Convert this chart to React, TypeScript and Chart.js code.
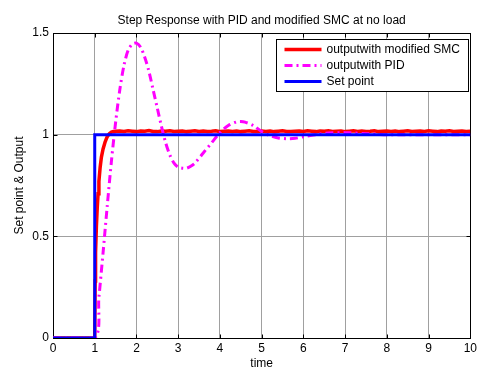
import React, { useEffect, useRef } from "react";
import { Chart, registerables } from "chart.js";

Chart.register(...registerables);

const chartTitle = "Step Response with PID and modified SMC at no load";
const xTitle = "time";
const yTitle = "Set point & Output";
const seriesLabels = ["outputwith modified SMC", "outputwith PID", "Set point"];

const smcTime = [
  0, 1, 1.01, 1.02, 1.04, 1.06, 1.08, 1.1, 1.13, 1.16, 1.2, 1.25, 1.3, 1.35, 1.4, 1.45, 1.5,
  1.6, 1.7, 1.8, 1.9, 2.0, 2.1, 2.2, 2.3, 2.4, 2.5, 2.6, 2.7, 2.8, 2.9, 3.0, 3.1, 3.2, 3.3, 3.4,
  3.5, 3.6, 3.7, 3.8, 3.9, 4.0, 4.1, 4.2, 4.3, 4.4, 4.5, 4.6, 4.7, 4.8, 4.9, 5.0, 5.1, 5.2,
  5.3, 5.4, 5.5, 5.6, 5.7, 5.8, 5.9, 6.0, 6.1, 6.2, 6.3, 6.4, 6.5, 6.6, 6.7, 6.8, 6.9, 7.0,
  7.1, 7.2, 7.3, 7.4, 7.5, 7.6, 7.7, 7.8, 7.9, 8.0, 8.1, 8.2, 8.3, 8.4, 8.5, 8.6, 8.7, 8.8,
  8.9, 9.0, 9.1, 9.2, 9.3, 9.4, 9.5, 9.6, 9.7, 9.8, 9.9, 10,
];
const smcValues = [
  0, 0, 0.28, 0.42, 0.55, 0.64, 0.71, 0.77, 0.84, 0.89, 0.93, 0.965, 0.99, 1.005, 1.013, 1.016, 1.017,
  1.018, 1.016, 1.019, 1.017, 1.015, 1.018, 1.017, 1.02, 1.016, 1.015, 1.018, 1.017, 1.019, 1.016, 1.017, 1.018, 1.015,
  1.017, 1.019, 1.016, 1.018, 1.016, 1.017, 1.019, 1.015, 1.017, 1.018, 1.016, 1.018, 1.015, 1.017, 1.019, 1.016,
  1.016, 1.018, 1.016, 1.018, 1.015, 1.017, 1.019, 1.016, 1.016, 1.017, 1.018, 1.016, 1.019, 1.017, 1.015, 1.018,
  1.017, 1.019, 1.016, 1.017, 1.018, 1.015, 1.017, 1.019, 1.016, 1.018, 1.016, 1.017, 1.019, 1.015, 1.017, 1.018,
  1.016, 1.018, 1.015, 1.017, 1.019, 1.016, 1.017, 1.018, 1.016, 1.019, 1.017, 1.015, 1.018, 1.017, 1.019, 1.016,
  1.017, 1.018, 1.016, 1.017,
];

const pidTime = [
  0, 1, 1.1, 1.2, 1.3, 1.4, 1.5, 1.6, 1.7, 1.8, 1.9, 2.0, 2.1, 2.2, 2.3, 2.4, 2.5, 2.6, 2.7,
  2.8, 2.9, 3.0, 3.1, 3.2, 3.3, 3.4, 3.6, 3.8, 4.0, 4.2, 4.4, 4.5, 4.6, 4.8, 5.0, 5.2, 5.4,
  5.6, 5.8, 6.0, 6.3, 6.6, 7.0, 7.5, 8, 9, 10,
];
const pidValues = [
  0, 0, 0.2, 0.42, 0.65, 0.87, 1.06, 1.22, 1.34, 1.415, 1.445, 1.45, 1.43, 1.38, 1.31, 1.22, 1.13, 1.04, 0.96,
  0.9, 0.86, 0.84, 0.835, 0.835, 0.845, 0.86, 0.91, 0.96, 1.01, 1.045, 1.063, 1.065, 1.062, 1.045, 1.015, 0.995, 0.984,
  0.98, 0.982, 0.99, 1.0, 1.008, 1.01, 1.005, 1.0, 1.0, 1.0,
];

const setTime = [0, 1, 1, 10];
const setValues = [0, 0, 1, 1];

const xTicks = [0, 1, 2, 3, 4, 5, 6, 7, 8, 9, 10];
const yTicks = [0, 0.5, 1, 1.5];

const FONT = "'Liberation Sans', Arial, Helvetica, sans-serif";
const FS = 12;

const toPoints = (xs: number[], ys: number[]) => xs.map((x, i) => ({ x, y: ys[i] }));

const boxPlugin = {
  id: "matlabBox",
  beforeDatasetsDraw(chart: any) {
    const { ctx, chartArea: a, scales } = chart;
    const l = Math.round(a.left) + 0.5;
    const t = Math.round(a.top) + 0.5;
    const r = Math.round(a.right) + 0.5;
    const b = Math.round(a.bottom) + 0.5;
    ctx.save();
    ctx.strokeStyle = "#000";
    ctx.lineWidth = 1;
    ctx.beginPath();
    xTicks.forEach((v) => {
      const px = Math.round(scales.x.getPixelForValue(v)) + 0.5;
      ctx.moveTo(px, b);
      ctx.lineTo(px, b - 4);
      ctx.moveTo(px, t);
      ctx.lineTo(px, t + 4);
    });
    yTicks.forEach((v) => {
      const py = Math.round(scales.y.getPixelForValue(v)) + 0.5;
      ctx.moveTo(l, py);
      ctx.lineTo(l + 4, py);
      ctx.moveTo(r, py);
      ctx.lineTo(r - 4, py);
    });
    ctx.stroke();
    ctx.strokeRect(l, t, r - l, b - t);
    ctx.restore();
  },
};

const legendPlugin = {
  id: "matlabLegend",
  afterDraw(chart: any) {
    const { ctx, chartArea: a } = chart;
    const w = 192;
    const h = 52;
    const x0 = Math.round(a.right) - 2 - w + 0.5;
    const y0 = Math.round(a.top) + 6 + 0.5;
    ctx.save();
    ctx.fillStyle = "#fff";
    ctx.fillRect(x0, y0, w, h);
    ctx.strokeStyle = "#000";
    ctx.lineWidth = 1;
    ctx.strokeRect(x0, y0, w, h);
    chart.data.datasets.forEach((ds: any, i: number) => {
      const y = y0 + 10 + i * 16;
      ctx.beginPath();
      ctx.strokeStyle = ds.borderColor;
      ctx.lineWidth = ds.borderWidth;
      ctx.setLineDash(ds.borderDash || []);
      ctx.moveTo(x0 + 8, y);
      ctx.lineTo(x0 + 45, y);
      ctx.stroke();
      ctx.setLineDash([]);
      ctx.fillStyle = "#000";
      ctx.font = `${FS}px ${FONT}`;
      ctx.textBaseline = "middle";
      ctx.textAlign = "left";
      ctx.fillText(ds.label, x0 + 50, y);
    });
    ctx.restore();
  },
};

export default function App() {
  const ref = useRef<HTMLCanvasElement>(null);
  useEffect(() => {
    if (!ref.current) return;
    const chart = new Chart(ref.current, {
      type: "line",
      data: {
        datasets: [
          {
            label: seriesLabels[0],
            data: toPoints(smcTime, smcValues),
            borderColor: "#ff0000",
            borderWidth: 3.5,
            pointRadius: 0,
            tension: 0,
            order: 3,
          },
          {
            label: seriesLabels[1],
            data: toPoints(pidTime, pidValues),
            borderColor: "#ff00ff",
            borderWidth: 3,
            borderDash: [8, 4, 2, 4],
            pointRadius: 0,
            tension: 0.3,
            order: 2,
          },
          {
            label: seriesLabels[2],
            data: toPoints(setTime, setValues),
            borderColor: "#0000ff",
            borderWidth: 3,
            pointRadius: 0,
            tension: 0,
            order: 1,
          },
        ],
      },
      options: {
        responsive: false,
        animation: false,
        layout: { padding: { left: 0, right: 7, top: 0, bottom: 0 } },
        plugins: {
          legend: { display: false },
          tooltip: { enabled: false },
          title: {
            display: true,
            text: chartTitle,
            fullSize: false,
            color: "#000",
            font: { family: FONT, size: FS, weight: "normal" },
            padding: { top: 13, bottom: 5.6 },
          },
        },
        scales: {
          x: {
            type: "linear",
            min: 0,
            max: 10,
            ticks: { stepSize: 1, color: "#000", font: { family: FONT, size: FS }, padding: 3, maxRotation: 0 },
            grid: { color: "#a0a0a0", lineWidth: 1, drawTicks: false },
            border: { display: false },
            title: { display: true, text: xTitle, color: "#000", font: { family: FONT, size: FS }, padding: { top: 0, bottom: 1 } },
            afterFit: (s: any) => {
              s.height = 34;
            },
          },
          y: {
            type: "linear",
            min: 0,
            max: 1.5,
            ticks: {
              stepSize: 0.5,
              color: "#000",
              font: { family: FONT, size: FS },
              padding: 4,
              callback: (v: any) => String(v),
            },
            grid: { color: "#a0a0a0", lineWidth: 1, drawTicks: false },
            border: { display: false },
            title: { display: true, text: yTitle, color: "#000", font: { family: FONT, size: FS }, padding: { top: 12, bottom: 0 } },
            afterFit: (s: any) => {
              s.width = 53;
            },
          },
        },
      },
      plugins: [boxPlugin, legendPlugin],
    });
    return () => chart.destroy();
  }, []);
  return (
    <div style={{ position: "absolute", left: 0, top: 0, width: 480, height: 372, background: "#fff" }}>
      <canvas ref={ref} width={480} height={372} />
    </div>
  );
}
